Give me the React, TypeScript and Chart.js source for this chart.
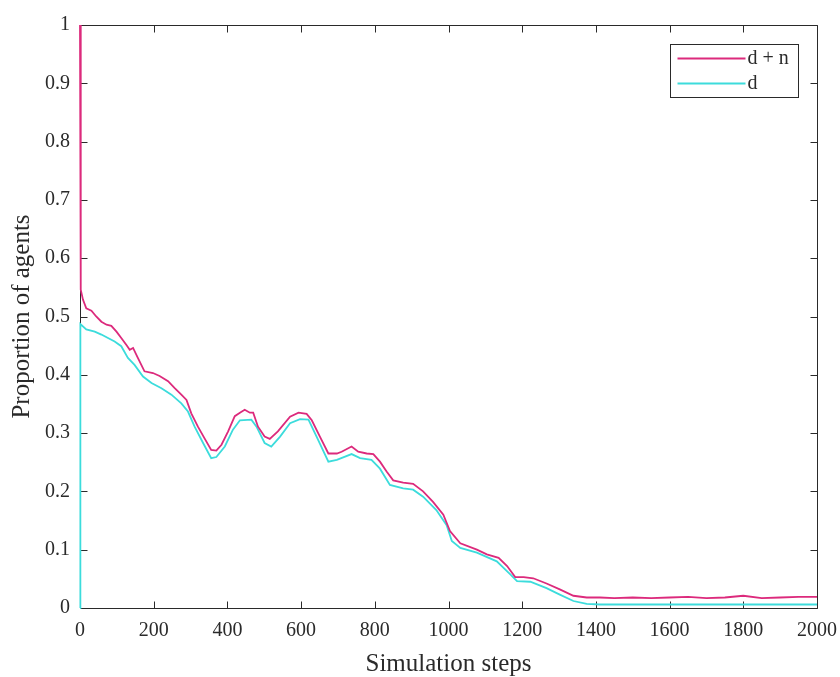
import React, { useEffect, useRef } from 'react';
import { Chart, registerables } from 'chart.js';

Chart.register(...registerables);

const seriesLabels = ['d + n', 'd'];
const seriesColors = ['#dc2a7c', '#3cdcdc'];

const stepsDN = [0, 2, 8, 17, 31, 44, 58, 72, 85, 99, 112, 126, 135, 144, 157, 175, 198, 216, 239, 257, 275, 289, 302, 320, 338, 356, 370, 384, 402, 420, 434, 447, 461, 470, 483, 501, 515, 537, 570, 593, 615, 629, 651, 674, 697, 710, 737, 755, 778, 796, 814, 832, 850, 877, 904, 931, 958, 986, 1004, 1032, 1077, 1104, 1136, 1159, 1181, 1204, 1230, 1266, 1302, 1339, 1375, 1411, 1450, 1500, 1550, 1600, 1650, 1700, 1750, 1800, 1850, 1900, 1950, 2000];
const valuesDN = [1.0, 0.546, 0.529, 0.514, 0.510, 0.500, 0.491, 0.486, 0.484, 0.474, 0.463, 0.451, 0.443, 0.446, 0.429, 0.406, 0.403, 0.398, 0.389, 0.377, 0.366, 0.357, 0.334, 0.311, 0.291, 0.271, 0.270, 0.280, 0.303, 0.329, 0.335, 0.340, 0.335, 0.335, 0.311, 0.294, 0.290, 0.303, 0.328, 0.335, 0.333, 0.322, 0.294, 0.265, 0.265, 0.268, 0.277, 0.268, 0.265, 0.264, 0.251, 0.234, 0.219, 0.215, 0.213, 0.200, 0.182, 0.160, 0.132, 0.111, 0.100, 0.092, 0.086, 0.072, 0.053, 0.053, 0.051, 0.042, 0.032, 0.021, 0.018, 0.018, 0.017, 0.018, 0.017, 0.018, 0.019, 0.017, 0.018, 0.021, 0.017, 0.018, 0.019, 0.019];

const stepsD = [0, 1, 17, 40, 58, 76, 94, 112, 130, 148, 171, 194, 221, 248, 275, 293, 311, 334, 356, 370, 393, 415, 434, 465, 479, 501, 519, 543, 570, 597, 620, 642, 674, 697, 737, 760, 791, 814, 841, 877, 904, 931, 967, 995, 1009, 1032, 1077, 1131, 1167, 1186, 1222, 1266, 1302, 1339, 1375, 1411, 1500, 1600, 1700, 1800, 1900, 2000];
const valuesD = [0, 0.487, 0.478, 0.474, 0.469, 0.463, 0.457, 0.449, 0.429, 0.417, 0.397, 0.386, 0.377, 0.366, 0.351, 0.337, 0.311, 0.283, 0.257, 0.259, 0.277, 0.306, 0.322, 0.323, 0.311, 0.283, 0.277, 0.294, 0.317, 0.324, 0.323, 0.294, 0.251, 0.254, 0.264, 0.257, 0.254, 0.239, 0.211, 0.205, 0.203, 0.191, 0.168, 0.142, 0.115, 0.103, 0.095, 0.080, 0.058, 0.046, 0.045, 0.034, 0.023, 0.012, 0.007, 0.006, 0.006, 0.006, 0.006, 0.006, 0.006, 0.006];

const xTickValues = [0, 200, 400, 600, 800, 1000, 1200, 1400, 1600, 1800, 2000];
const yTickValues = [0, 0.1, 0.2, 0.3, 0.4, 0.5, 0.6, 0.7, 0.8, 0.9, 1];

const xTitle = 'Simulation steps';
const yTitle = 'Proportion of agents';

const FONT = "'Liberation Serif', 'Times New Roman', serif";
const INK = '#2a2a2a';

const boxPlugin = {
  id: 'matlabBox',
  beforeDatasetsDraw(chart: any) {
    const { ctx, chartArea: a, scales } = chart;
    const x = scales.x;
    const y = scales.y;
    ctx.save();
    ctx.strokeStyle = INK;
    ctx.lineWidth = 1;
    const L = Math.round(a.left) + 0.5;
    const R = Math.round(a.right) + 0.5;
    const T = Math.round(a.top) + 0.5;
    const B = Math.round(a.bottom) + 0.5;
    ctx.beginPath();
    ctx.rect(L, T, R - L, B - T);
    const tl = 7;
    xTickValues.forEach((v) => {
      const px = Math.round(x.getPixelForValue(v)) + 0.5;
      ctx.moveTo(px, B);
      ctx.lineTo(px, B - tl);
      ctx.moveTo(px, T);
      ctx.lineTo(px, T + tl);
    });
    yTickValues.forEach((v) => {
      const py = Math.round(y.getPixelForValue(v)) + 0.5;
      ctx.moveTo(L, py);
      ctx.lineTo(L + tl, py);
      ctx.moveTo(R, py);
      ctx.lineTo(R - tl, py);
    });
    ctx.stroke();
    ctx.restore();
  },
  afterDatasetsDraw(chart: any) {
    const { ctx, chartArea: a } = chart;
    ctx.save();
    const bw = 128;
    const bh = 53;
    const bx = Math.round(a.right) - 19 - bw + 0.5;
    const by = Math.round(a.top) + 19 + 0.5;
    ctx.fillStyle = '#ffffff';
    ctx.fillRect(bx, by, bw, bh);
    ctx.strokeStyle = INK;
    ctx.lineWidth = 1;
    ctx.strokeRect(bx, by, bw, bh);
    ctx.font = `20px ${FONT}`;
    ctx.textBaseline = 'middle';
    ctx.textAlign = 'left';
    chart.data.datasets.forEach((ds: any, i: number) => {
      const ly = by + 14 + i * 25;
      ctx.strokeStyle = ds.borderColor;
      ctx.lineWidth = 1.8;
      ctx.beginPath();
      ctx.moveTo(bx + 7, ly);
      ctx.lineTo(bx + 75, ly);
      ctx.stroke();
      ctx.fillStyle = INK;
      ctx.fillText(ds.label, bx + 77, ly);
    });
    ctx.restore();
  },
};

export default function App() {
  const ref = useRef<HTMLCanvasElement>(null);

  useEffect(() => {
    if (!ref.current) return;
    const chart = new Chart(ref.current, {
      type: 'line',
      data: {
        datasets: [
          {
            label: seriesLabels[0],
            data: stepsDN.map((s, i) => ({ x: s, y: valuesDN[i] })),
            borderColor: seriesColors[0],
            borderWidth: 1.8,
            pointRadius: 0,
            tension: 0,
            fill: false,
            clip: 4,
          },
          {
            label: seriesLabels[1],
            data: stepsD.map((s, i) => ({ x: s, y: valuesD[i] })),
            borderColor: seriesColors[1],
            borderWidth: 1.8,
            pointRadius: 0,
            tension: 0,
            fill: false,
            clip: 4,
          },
        ],
      },
      options: {
        responsive: false,
        animation: false,
        devicePixelRatio: 1,
        layout: { padding: { top: 25, right: 23, left: 0, bottom: 0 } },
        plugins: {
          legend: { display: false },
          tooltip: { enabled: false },
        },
        scales: {
          x: {
            type: 'linear',
            min: 0,
            max: 2000,
            afterFit: (s: any) => { s.height = 69; s.paddingLeft = 0; s.paddingRight = 0; },
            afterBuildTicks: (s: any) => { s.ticks = xTickValues.map((v) => ({ value: v })); },
            grid: { display: false, drawTicks: false },
            border: { display: false },
            ticks: {
              font: { family: FONT, size: 20 },
              color: INK,
              padding: 11,
              maxRotation: 0,
              autoSkip: false,
              callback: (v: any) => String(v),
            },
            title: {
              display: true,
              text: xTitle,
              color: INK,
              font: { family: FONT, size: 25, lineHeight: 1 },
              padding: { top: 0, bottom: 0 },
            },
          },
          y: {
            type: 'linear',
            min: 0,
            max: 1,
            afterFit: (s: any) => { s.width = 80; s.paddingTop = 0; s.paddingBottom = 0; },
            afterBuildTicks: (s: any) => { s.ticks = yTickValues.map((v) => ({ value: v })); },
            grid: { display: false, drawTicks: false },
            border: { display: false },
            ticks: {
              font: { family: FONT, size: 20 },
              color: INK,
              padding: 10,
              autoSkip: false,
              callback: (v: any) => String(Number(Number(v).toFixed(1))),
            },
            title: {
              display: true,
              text: yTitle,
              color: INK,
              font: { family: FONT, size: 25, lineHeight: 1 },
              padding: { top: 10, bottom: 0 },
            },
          },
        },
      },
      plugins: [boxPlugin],
    } as any);
    return () => chart.destroy();
  }, []);

  return (
    <div style={{ position: 'absolute', left: 0, top: 0, width: 840, height: 677, background: '#fff' }}>
      <canvas ref={ref} width={840} height={677} style={{ display: 'block', width: 840, height: 677 }} />
    </div>
  );
}
